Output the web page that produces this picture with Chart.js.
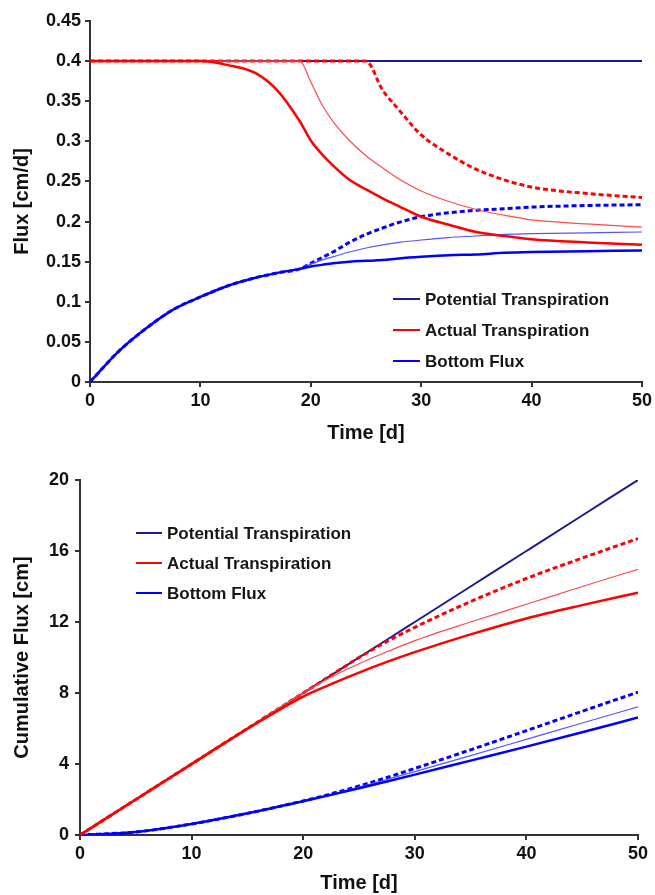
<!DOCTYPE html>
<html>
<head>
<meta charset="utf-8">
<script src="https://cdn.jsdelivr.net/npm/chart.js@4.4.1/dist/chart.umd.min.js"></script>
<style>
  body { margin: 0; background: #fff; }
  canvas { position: absolute; left: 0; }
  #fluxChart { top: 0; }
  #cumChart { top: 445px; }
</style>
</head>
<body>
<canvas id="fluxChart" width="655" height="445"></canvas>
<canvas id="cumChart" width="655" height="450"></canvas>
<script>
// ---- data ----
const fluxDays = [0, 2.5, 5, 7.5, 10, 12.5, 15, 17, 19, 20, 21, 22, 23.5, 25, 26.5, 28, 30, 32.5, 35, 37.5, 40, 45, 50];
const potentialFlux = [0.4, 0.4, 0.4, 0.4, 0.4, 0.4, 0.4, 0.4, 0.4, 0.4, 0.4, 0.4, 0.4, 0.4, 0.4, 0.4, 0.4, 0.4, 0.4, 0.4, 0.4, 0.4, 0.4];
const actualFluxA = [0.4, 0.4, 0.4, 0.4, 0.4, 0.395, 0.385, 0.363, 0.325, 0.301, 0.284, 0.270, 0.252, 0.240, 0.229, 0.219, 0.206, 0.196, 0.187, 0.182, 0.178, 0.174, 0.171];
const actualFluxB = [0.4, 0.4, 0.4, 0.4, 0.4, 0.4, 0.4, 0.4, 0.4, 0.374, 0.346, 0.325, 0.301, 0.282, 0.267, 0.253, 0.238, 0.225, 0.215, 0.208, 0.202, 0.197, 0.193];
const actualFluxC = [0.4, 0.4, 0.4, 0.4, 0.4, 0.4, 0.4, 0.4, 0.4, 0.4, 0.4, 0.4, 0.4, 0.4, 0.364, 0.339, 0.308, 0.284, 0.265, 0.252, 0.243, 0.235, 0.230];
const bottomFluxA = [0, 0.037, 0.066, 0.090, 0.106, 0.120, 0.130, 0.136, 0.141, 0.144, 0.146, 0.148, 0.150, 0.151, 0.152, 0.154, 0.156, 0.158, 0.159, 0.161, 0.162, 0.163, 0.164];
const bottomFluxB = [0, 0.037, 0.066, 0.090, 0.106, 0.120, 0.130, 0.136, 0.141, 0.147, 0.152, 0.156, 0.162, 0.167, 0.171, 0.174, 0.177, 0.180, 0.182, 0.184, 0.185, 0.186, 0.187];
const bottomFluxC = [0, 0.037, 0.066, 0.090, 0.106, 0.120, 0.130, 0.136, 0.141, 0.148, 0.155, 0.162, 0.174, 0.184, 0.192, 0.199, 0.206, 0.211, 0.214, 0.216, 0.218, 0.220, 0.221];

const cumDays = [0, 5, 10, 15, 20, 22.5, 25, 27.5, 30, 35, 40, 45, 50];
const cumPotential = [0, 2, 4, 6, 8, 9, 10, 11, 12, 14, 16, 18, 20];
const cumActualA = [0, 2, 4, 5.98, 7.8, 8.5, 9.15, 9.75, 10.3, 11.3, 12.2, 12.95, 13.65];
const cumActualB = [0, 2, 4, 6, 8, 8.9, 9.65, 10.32, 10.95, 12.0, 13.0, 14.0, 14.97];
const cumActualC = [0, 2, 4, 6, 8, 9, 10, 10.9, 11.7, 13.15, 14.45, 15.6, 16.7];
const cumBottomA = [0, 0.17, 0.62, 1.22, 1.9, 2.26, 2.63, 3.01, 3.4, 4.19, 4.98, 5.79, 6.62];
const cumBottomB = [0, 0.17, 0.62, 1.22, 1.91, 2.29, 2.7, 3.13, 3.57, 4.47, 5.39, 6.31, 7.22];
const cumBottomC = [0, 0.17, 0.62, 1.22, 1.92, 2.32, 2.76, 3.24, 3.75, 4.8, 5.88, 6.97, 8.05];

const legendNames = ["Potential Transpiration", "Actual Transpiration", "Bottom Flux"];

// ---- styles ----
const NAVY = "#1c1c8c";
const RED = "#ff0000";
const RED_THIN = "#ff4a4a";
const BLUE = "#0000ff";
const BLUE_THIN = "#5555ff";
const legendColors = [NAVY, RED, BLUE];
const FONT = '"Liberation Sans", Arial, sans-serif';
const AXIS = "#333333";

function series(days, values, color, width, dash) {
  return {
    data: days.map((d, i) => ({ x: d, y: values[i] })),
    borderColor: color,
    borderWidth: width,
    borderDash: dash || [],
    pointRadius: 0,
    fill: false,
    cubicInterpolationMode: "monotone",
  };
}

// draws the small legend inside the plot
const insetLegend = {
  id: "insetLegend",
  afterDatasetsDraw(chart, args, opts) {
    const ctx = chart.ctx;
    ctx.save();
    ctx.font = "bold 17px " + FONT;
    ctx.textBaseline = "middle";
    ctx.fillStyle = "#161616";
    legendNames.forEach((name, i) => {
      const y = opts.y + i * opts.gap;
      ctx.strokeStyle = legendColors[i];
      ctx.lineWidth = 2;
      ctx.beginPath();
      ctx.moveTo(opts.x, y);
      ctx.lineTo(opts.x + opts.len, y);
      ctx.stroke();
      ctx.fillText(name, opts.x + opts.len + 5, y + 1);
    });
    ctx.restore();
  },
};

function makeOptions(cfg) {
  return {
    responsive: false,
    animation: false,
    layout: { padding: { top: cfg.top, right: cfg.right, left: 0, bottom: 0 } },
    plugins: {
      legend: { display: false },
      tooltip: { enabled: false },
      insetLegend: cfg.legend,
    },
    scales: {
      x: {
        type: "linear",
        min: 0,
        max: 50,
        afterFit: (s) => { s.height = cfg.xHeight; },
        border: { color: AXIS, width: 2 },
        grid: { drawOnChartArea: false, color: AXIS, lineWidth: 2, tickLength: 5 },
        ticks: { stepSize: 10, color: "#111", padding: 3, font: { family: FONT, size: 18, weight: "bold" } },
        title: { display: true, text: "Time [d]", color: "#111", padding: { top: 0, bottom: 0 }, font: { family: FONT, size: 20, weight: "bold" } },
      },
      y: {
        min: 0,
        max: cfg.yMax,
        afterFit: (s) => { s.width = cfg.yWidth; },
        border: { color: AXIS, width: 2 },
        grid: { drawOnChartArea: false, color: AXIS, lineWidth: 2, tickLength: 5 },
        ticks: {
          stepSize: cfg.yStep,
          color: "#111",
          padding: cfg.yPad,
          font: { family: FONT, size: 18, weight: "bold" },
          callback: (v) => String(+v.toFixed(2)),
        },
        title: { display: true, text: cfg.yTitle, color: "#111", padding: { top: 10, bottom: 0 }, font: { family: FONT, size: 20, weight: "bold" } },
      },
    },
  };
}

// Flux chart
new Chart(document.getElementById("fluxChart"), {
  type: "line",
  data: {
    datasets: [
      series(fluxDays, actualFluxA, RED, 2.5),
      series(fluxDays, actualFluxB, RED_THIN, 1.2),
      series(fluxDays, actualFluxC, RED, 3, [5, 3]),
      series(fluxDays, bottomFluxA, BLUE, 2.5),
      series(fluxDays, bottomFluxB, BLUE_THIN, 1.2),
      series(fluxDays, bottomFluxC, BLUE, 3, [5, 3]),
      series(fluxDays, potentialFlux, NAVY, 2),
    ],
  },
  options: makeOptions({
    top: 21, right: 12, xHeight: 63, yWidth: 90, yPad: 4,
    yMax: 0.45, yStep: 0.05, yTitle: "Flux [cm/d]",
    legend: { x: 393, y: 299, gap: 31, len: 27 },
  }),
  plugins: [insetLegend],
});

// Cumulative flux chart
new Chart(document.getElementById("cumChart"), {
  type: "line",
  data: {
    datasets: [
      series(cumDays, cumActualA, RED, 2.5),
      series(cumDays, cumActualB, RED_THIN, 1.2),
      series(cumDays, cumActualC, RED, 3, [5, 3]),
      series(cumDays, cumBottomA, BLUE, 2.5),
      series(cumDays, cumBottomB, BLUE_THIN, 1.2),
      series(cumDays, cumBottomC, BLUE, 3, [5, 3]),
      series(cumDays, cumPotential, NAVY, 2),
    ],
  },
  options: makeOptions({
    top: 35, right: 17, xHeight: 60, yWidth: 80, yPad: 6,
    yMax: 20, yStep: 4, yTitle: "Cumulative Flux [cm]",
    legend: { x: 136, y: 88, gap: 30, len: 26 },
  }),
  plugins: [insetLegend],
});
</script>
</body>
</html>
